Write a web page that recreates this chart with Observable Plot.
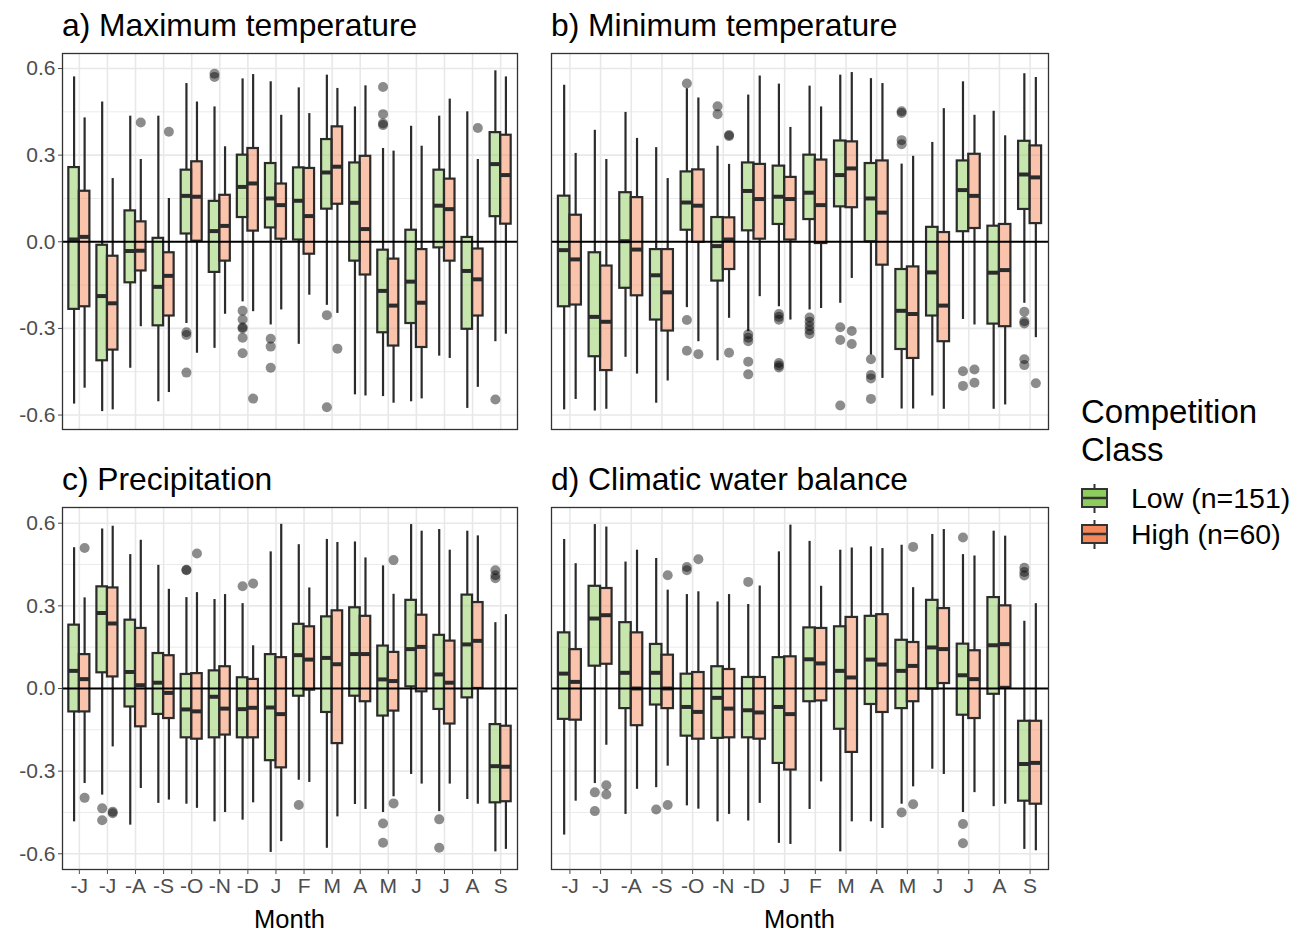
<!DOCTYPE html>
<html><head><meta charset="utf-8">
<script src="https://cdn.jsdelivr.net/npm/d3@7"></script>
<script src="https://cdn.jsdelivr.net/npm/@observablehq/plot@0.6"></script>
<style>
body{margin:0;background:#fff;font-family:"Liberation Sans",Arial,sans-serif;}
#wrap{position:relative;width:1304px;height:934px;overflow:hidden;}
.abs{position:absolute;}
</style></head><body><div id="wrap"></div>
<script>
// ---------- DATA ----------
const months = ["-J","-J","-A","-S","-O","-N","-D","J","F","M","A","M","J","J","A","S"];
const groupKeys = ["Low","High"];
const groupLabels = ["Low (n=151)","High (n=60)"];
const yTicks = [-0.6,-0.3,0,0.3,0.6];
const yMinor = [-0.45,-0.15,0.15,0.45];
const panelTitles = ["a) Maximum temperature","b) Minimum temperature","c) Precipitation","d) Climatic water balance"];

// each row: [lower whisker, Q1, median, Q3, upper whisker], one per month
const tmaxLow = [[-0.562,-0.234,0.008,0.257,0.571],[-0.588,-0.412,-0.188,-0.012,0.484],[-0.438,-0.142,-0.032,0.107,0.435],[-0.554,-0.291,-0.156,0.012,0.435],[-0.283,0.027,0.159,0.248,0.548],[-0.369,-0.106,0.037,0.140,0.467],[-0.208,0.084,0.190,0.300,0.564],[-0.288,0.048,0.150,0.271,0.554],[-0.355,0.006,0.142,0.256,0.533],[-0.220,0.113,0.240,0.354,0.577],[-0.530,-0.067,0.135,0.273,0.467],[-0.536,-0.315,-0.170,-0.029,0.323],[-0.554,-0.283,-0.138,0.040,0.400],[-0.396,-0.021,0.125,0.248,0.435],[-0.577,-0.303,-0.101,0.015,0.450],[-0.346,0.087,0.269,0.378,0.592]];
const tmaxHigh = [[-0.507,-0.225,0.017,0.175,0.429],[-0.582,-0.375,-0.213,-0.050,0.219],[-0.294,-0.101,-0.031,0.069,0.285],[-0.522,-0.257,-0.118,-0.038,0.150],[-0.386,0.002,0.156,0.277,0.484],[-0.251,-0.067,0.055,0.161,0.329],[-0.242,0.037,0.202,0.323,0.579],[-0.236,0.009,0.127,0.200,0.438],[-0.185,-0.043,0.089,0.254,0.444],[-0.248,0.130,0.260,0.398,0.531],[-0.534,-0.115,0.044,0.296,0.540],[-0.559,-0.361,-0.221,-0.060,0.314],[-0.544,-0.366,-0.211,-0.027,0.331],[-0.404,-0.067,0.113,0.217,0.494],[-0.504,-0.257,-0.130,-0.025,0.285],[-0.320,0.061,0.231,0.369,0.571]];
const tmaxLowOut = [[5,-0.313],[5,-0.323],[5,-0.453],[6,0.582],[6,0.571],[7,-0.239],[7,-0.269],[7,-0.296],[7,-0.300],[7,-0.332],[7,-0.386],[8,-0.336],[8,-0.363],[8,-0.436],[10,-0.254],[10,-0.573],[12,0.536],[12,0.442],[12,0.404],[12,0.410],[16,-0.546]];
const tmaxHighOut = [[3,0.413],[4,0.381],[7,-0.543],[10,-0.370],[15,0.394]];

const tminLow = [[-0.582,-0.225,-0.029,0.158,0.542],[-0.586,-0.398,-0.260,-0.038,0.386],[-0.400,-0.161,0.002,0.170,0.448],[-0.559,-0.271,-0.116,-0.027,0.326],[-0.228,0.040,0.136,0.242,0.530],[-0.412,-0.136,-0.015,0.084,0.331],[-0.311,0.038,0.176,0.273,0.508],[-0.225,0.060,0.156,0.262,0.546],[-0.236,0.077,0.170,0.300,0.539],[-0.213,0.121,0.231,0.349,0.577],[-0.392,0.000,0.150,0.271,0.565],[-0.579,-0.373,-0.239,-0.096,0.269],[-0.534,-0.257,-0.106,0.050,0.344],[-0.269,0.035,0.179,0.280,0.554],[-0.580,-0.285,-0.107,0.054,0.452],[-0.213,0.112,0.233,0.348,0.582]];
const tminHigh = [[-0.546,-0.219,-0.061,0.092,0.306],[-0.580,-0.446,-0.277,-0.084,0.285],[-0.458,-0.187,-0.027,0.153,0.358],[-0.482,-0.309,-0.175,-0.027,0.219],[-0.346,-0.002,0.125,0.249,0.498],[-0.265,-0.096,0.008,0.083,0.268],[-0.190,0.009,0.148,0.268,0.574],[-0.271,0.006,0.148,0.223,0.396],[-0.231,-0.006,0.127,0.283,0.467],[-0.127,0.118,0.254,0.346,0.586],[-0.473,-0.081,0.101,0.280,0.548],[-0.579,-0.404,-0.250,-0.087,0.296],[-0.580,-0.346,-0.221,0.032,0.461],[-0.288,0.046,0.159,0.303,0.438],[-0.565,-0.294,-0.098,0.060,0.367],[-0.332,0.063,0.223,0.332,0.569]];
const tminLowOut = [[5,0.548],[5,-0.271],[5,-0.377],[6,0.469],[6,0.442],[7,-0.320],[7,-0.332],[7,-0.344],[7,-0.415],[7,-0.459],[8,-0.250],[8,-0.260],[8,-0.270],[8,-0.420],[8,-0.428],[8,-0.435],[9,-0.262],[9,-0.277],[9,-0.292],[9,-0.306],[9,-0.319],[10,-0.296],[10,-0.340],[10,-0.567],[11,-0.407],[11,-0.461],[11,-0.473],[11,-0.544],[12,0.446],[12,0.452],[12,0.352],[12,0.338],[14,-0.448],[14,-0.499],[16,-0.242],[16,-0.275],[16,-0.283],[16,-0.407],[16,-0.427]];
const tminHighOut = [[5,-0.389],[6,0.366],[6,0.370],[6,-0.384],[10,-0.309],[10,-0.354],[14,-0.442],[14,-0.488],[16,-0.490]];

const precLow = [[-0.484,-0.085,0.064,0.230,0.511],[-0.387,0.057,0.274,0.369,0.579],[-0.496,-0.067,0.060,0.248,0.486],[-0.417,-0.094,0.021,0.127,0.447],[-0.420,-0.179,-0.076,0.051,0.330],[-0.484,-0.179,-0.030,0.064,0.323],[-0.478,-0.179,-0.075,0.039,0.308],[-0.595,-0.262,-0.069,0.123,0.496],[-0.333,-0.028,0.121,0.233,0.522],[-0.580,-0.087,0.111,0.260,0.541],[-0.421,-0.028,0.125,0.293,0.532],[-0.450,-0.100,0.033,0.154,0.445],[-0.312,0.006,0.143,0.320,0.595],[-0.447,-0.076,0.051,0.193,0.577],[-0.403,-0.034,0.160,0.339,0.571],[-0.593,-0.415,-0.282,-0.131,0.239]];
const precHigh = [[-0.345,-0.085,0.034,0.123,0.329],[-0.212,0.042,0.236,0.365,0.589],[-0.363,-0.139,0.012,0.218,0.538],[-0.405,-0.109,-0.016,0.119,0.360],[-0.435,-0.184,-0.083,0.054,0.348],[-0.450,-0.169,-0.073,0.079,0.341],[-0.415,-0.179,-0.070,0.033,0.155],[-0.556,-0.288,-0.093,0.112,0.596],[-0.341,-0.006,0.105,0.224,0.365],[-0.466,-0.200,0.088,0.282,0.530],[-0.439,-0.048,0.125,0.262,0.474],[-0.393,-0.082,0.027,0.131,0.342],[-0.347,-0.012,0.151,0.266,0.571],[-0.347,-0.129,0.021,0.172,0.502],[-0.420,0.000,0.173,0.312,0.554],[-0.584,-0.411,-0.284,-0.137,0.268]];
const precLowOut = [[2,-0.435],[2,-0.478],[5,0.429],[5,0.431],[7,0.371],[9,-0.423],[12,-0.490],[12,-0.560],[14,-0.475],[14,-0.578],[16,0.429],[16,0.411],[16,0.400]];
const precHighOut = [[1,0.510],[1,-0.397],[2,-0.447],[2,-0.453],[5,0.490],[7,0.381],[12,0.466],[12,-0.417]];

const cwbLow = [[-0.532,-0.112,0.054,0.202,0.541],[-0.345,0.081,0.254,0.371,0.595],[-0.457,-0.073,0.057,0.239,0.459],[-0.360,-0.060,0.057,0.160,0.472],[-0.426,-0.173,-0.067,0.052,0.341],[-0.484,-0.181,-0.034,0.079,0.314],[-0.481,-0.179,-0.079,0.040,0.305],[-0.562,-0.272,-0.067,0.112,0.496],[-0.439,-0.048,0.106,0.220,0.534],[-0.593,-0.148,0.064,0.224,0.502],[-0.484,-0.058,0.105,0.262,0.514],[-0.420,-0.073,0.064,0.175,0.520],[-0.293,-0.002,0.149,0.320,0.559],[-0.450,-0.097,0.048,0.161,0.486],[-0.429,-0.021,0.157,0.330,0.571],[-0.584,-0.409,-0.274,-0.119,0.244]];
const cwbHigh = [[-0.409,-0.115,0.024,0.141,0.453],[-0.206,0.088,0.266,0.363,0.586],[-0.366,-0.135,0.000,0.202,0.502],[-0.282,-0.073,0.000,0.121,0.357],[-0.438,-0.184,-0.085,0.058,0.351],[-0.457,-0.179,-0.073,0.069,0.341],[-0.417,-0.184,-0.087,0.040,0.372],[-0.566,-0.296,-0.093,0.115,0.593],[-0.339,-0.045,0.091,0.218,0.371],[-0.484,-0.232,0.040,0.258,0.510],[-0.508,-0.087,0.087,0.268,0.508],[-0.357,-0.048,0.082,0.167,0.366],[-0.312,0.018,0.143,0.290,0.577],[-0.378,-0.109,0.034,0.137,0.481],[-0.420,0.004,0.161,0.300,0.553],[-0.589,-0.420,-0.270,-0.119,0.308]];
const cwbLowOut = [[2,-0.377],[2,-0.445],[4,-0.439],[5,0.441],[5,0.429],[7,0.387],[12,-0.450],[14,0.548],[14,-0.492],[14,-0.562],[16,0.438],[16,0.423],[16,0.410]];
const cwbHighOut = [[2,-0.351],[2,-0.385],[4,0.411],[4,-0.423],[5,0.469],[12,0.514],[12,-0.420]];

// ---------- STYLE ----------
const FONT = '"Liberation Sans", Arial, sans-serif';
const keyColors = ["#8dcd5e", "#f4885a"];
const DODGE = 0.75, BW = DODGE / 2;
const off = g => g === "Low" ? -BW / 2 : BW / 2;
const xc = d => d.m + off(d.g);

function toRows(stats, g) {
  return stats.map((s, i) => ({m: i + 1, g, lo: s[0], q1: s[1], med: s[2], q3: s[3], hi: s[4]}));
}
function toOut(list, g) { return list.map(([m, v]) => ({m, v, g})); }

function panel(cfg) {
  const data = [...toRows(cfg.low, "Low"), ...toRows(cfg.high, "High")];
  const outs = [...toOut(cfg.lowOut, "Low"), ...toOut(cfg.highOut, "High")];
  const marks = [
    Plot.ruleY(yMinor, {stroke: "#ebebeb", strokeWidth: 1}),
    Plot.ruleY(yTicks, {stroke: "#e8e8e8", strokeWidth: 1.6}),
    Plot.ruleX(d3.range(1, 17), {stroke: "#e8e8e8", strokeWidth: 1.6}),
    Plot.ruleX(data, {x: xc, y1: "q3", y2: "hi", stroke: "#2b2b2b", strokeWidth: 2.2}),
    Plot.ruleX(data, {x: xc, y1: "lo", y2: "q1", stroke: "#2b2b2b", strokeWidth: 2.2}),
    Plot.rect(data, {x1: d => xc(d) - BW / 2, x2: d => xc(d) + BW / 2, y1: "q1", y2: "q3", fill: "g", fillOpacity: 0.5, stroke: "#2b2b2b", strokeWidth: 2.2}),
    Plot.ruleY(data, {x1: d => xc(d) - BW / 2, x2: d => xc(d) + BW / 2, y: "med", stroke: "#2b2b2b", strokeWidth: 4}),
    Plot.dot(outs, {x: xc, y: "v", r: 5, fill: "black", fillOpacity: 0.45, stroke: "none"}),
    Plot.ruleY([0], {stroke: "black", strokeWidth: 2}),
    Plot.frame({stroke: "#333", strokeWidth: 1.3})
  ];
  if (cfg.yAxis) marks.push(Plot.axisY({ticks: yTicks, tickFormat: d => d.toFixed(1), tickSize: 4, tickPadding: 3, fontSize: 21, color: "#4d4d4d", label: null}));
  if (cfg.xAxis) marks.push(Plot.axisX({ticks: d3.range(1, 17), tickFormat: i => months[i - 1], tickSize: 5, tickPadding: 4, fontSize: 21, color: "#4d4d4d", label: null}));
  const svg = Plot.plot({
    width: cfg.width, height: cfg.height,
    marginLeft: cfg.marginLeft, marginRight: 3, marginTop: 10, marginBottom: cfg.marginBottom,
    x: {domain: [0.4, 16.6], axis: null},
    y: {domain: cfg.domain, axis: null},
    color: {domain: groupKeys, range: keyColors},
    style: {fontFamily: FONT, fontSize: "21px", background: "transparent", overflow: "visible"},
    marks
  });
  const div = document.createElement("div");
  div.className = "abs";
  div.style.left = cfg.left + "px";
  div.style.top = cfg.top + "px";
  div.appendChild(svg);
  document.getElementById("wrap").appendChild(div);
}

panel({low: tmaxLow, high: tmaxHigh, lowOut: tmaxLowOut, highOut: tmaxHighOut, left: 0, top: 43, width: 520, height: 396, marginLeft: 62, marginBottom: 10, domain: [-0.65, 0.652], yAxis: true, xAxis: false});
panel({low: tminLow, high: tminHigh, lowOut: tminLowOut, highOut: tminHighOut, left: 540, top: 43, width: 511, height: 396, marginLeft: 11, marginBottom: 10, domain: [-0.65, 0.652], yAxis: false, xAxis: false});
panel({low: precLow, high: precHigh, lowOut: precLowOut, highOut: precHighOut, left: 0, top: 497, width: 520, height: 412, marginLeft: 62, marginBottom: 40, domain: [-0.657, 0.657], yAxis: true, xAxis: true});
panel({low: cwbLow, high: cwbHigh, lowOut: cwbLowOut, highOut: cwbHighOut, left: 540, top: 497, width: 511, height: 412, marginLeft: 11, marginBottom: 40, domain: [-0.657, 0.657], yAxis: false, xAxis: true});

// ---------- TEXT & LEGEND OVERLAY ----------
const ns = "http://www.w3.org/2000/svg";
const ov = document.createElementNS(ns, "svg");
ov.setAttribute("width", 1304); ov.setAttribute("height", 934);
ov.setAttribute("class", "abs");
ov.style.left = "0px"; ov.style.top = "0px"; ov.style.pointerEvents = "none";
ov.style.fontFamily = FONT;
function txt(s, x, y, size, anchor = "start", fill = "#000") {
  const t = document.createElementNS(ns, "text");
  t.setAttribute("x", x); t.setAttribute("y", y);
  t.setAttribute("font-size", size); t.setAttribute("fill", fill);
  t.setAttribute("text-anchor", anchor);
  t.textContent = s; ov.appendChild(t);
}
function el(tag, attrs) {
  const e = document.createElementNS(ns, tag);
  for (const k in attrs) e.setAttribute(k, attrs[k]);
  ov.appendChild(e);
}
txt(panelTitles[0], 62, 36, 31.8);
txt(panelTitles[1], 551, 36, 31.8);
txt(panelTitles[2], 62, 490, 31.8);
txt(panelTitles[3], 551, 490, 31.8);
txt("Month", 289.5, 928, 25.5, "middle");
txt("Month", 799.5, 928, 25.5, "middle");
txt("Competition", 1081, 423, 33);
txt("Class", 1081, 461, 33);
groupLabels.forEach((lab, i) => {
  const cy = 498 + i * 36;
  el("line", {x1: 1094.5, x2: 1094.5, y1: cy - 14, y2: cy + 15, stroke: "#333", "stroke-width": 2});
  el("rect", {x: 1082, y: cy - 9, width: 25, height: 18, fill: keyColors[i], stroke: "#333", "stroke-width": 2});
  el("line", {x1: 1082, x2: 1107, y1: cy, y2: cy, stroke: "#333", "stroke-width": 2.5});
  txt(lab, 1131, cy + 10, 28.5);
});
document.getElementById("wrap").appendChild(ov);
</script></body></html>
